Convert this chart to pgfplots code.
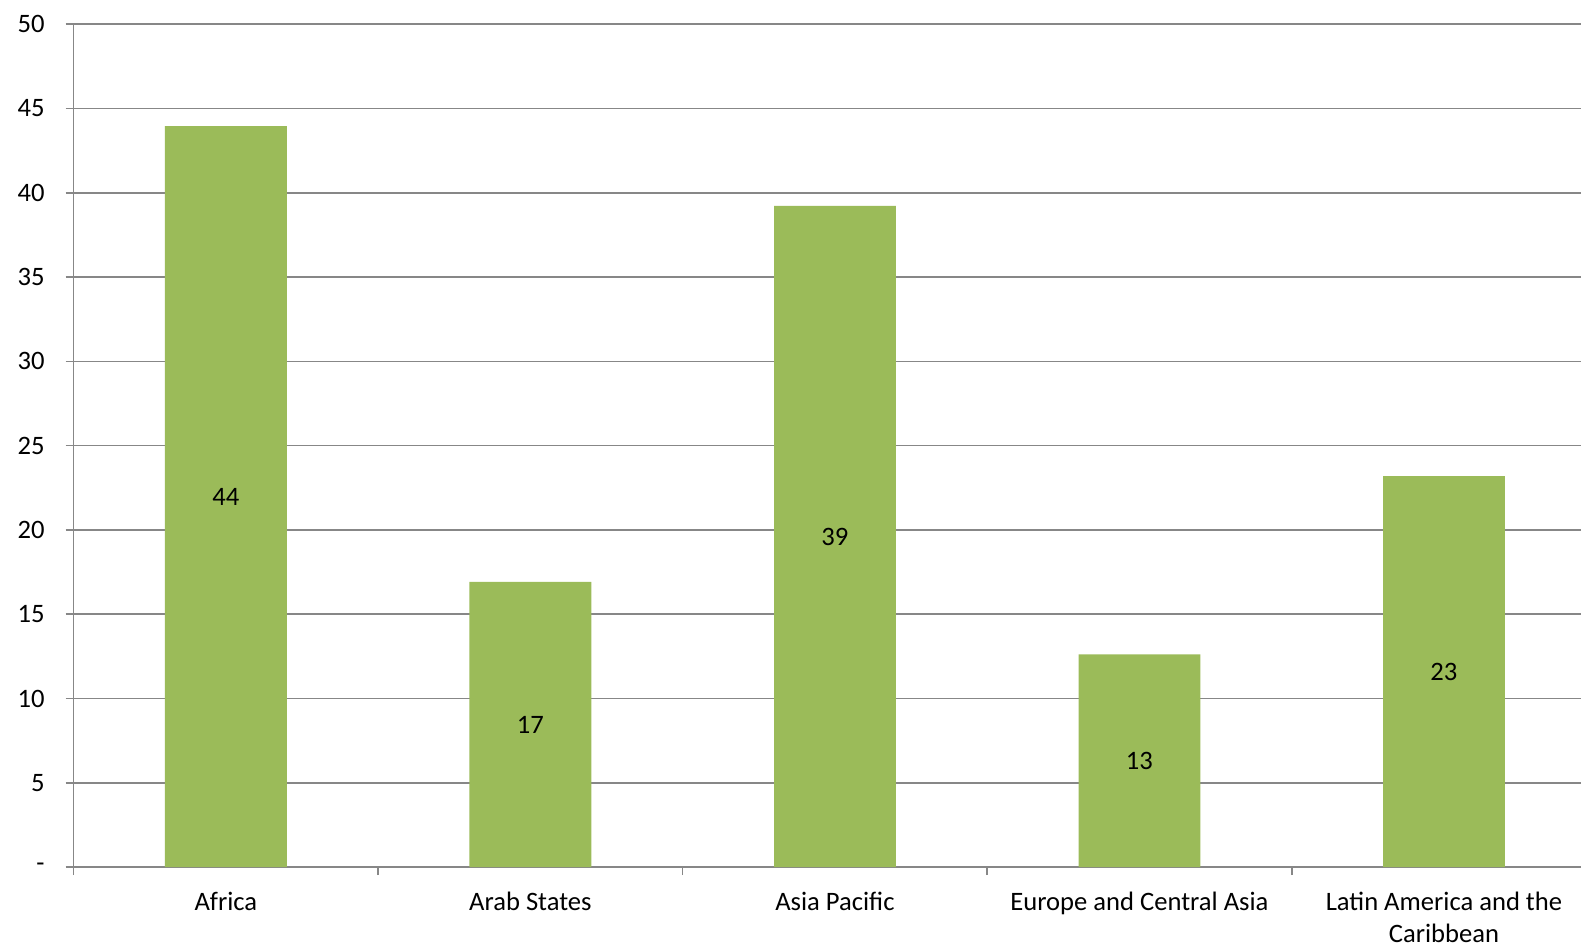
\documentclass[border=0pt]{standalone}
\usepackage{fontspec}
\setmainfont{Carlito}
\usepackage{pgfplots}
\usepackage{pgfplotstable}
\pgfplotsset{compat=1.18}
\definecolor{bargreen}{HTML}{9BBB59}
\definecolor{gridgray}{HTML}{878787}
\pgfplotstableread{
x value label
0 43.96 44
1 16.93 17
2 39.23 39
3 12.62 13
4 23.20 23
}\datatable
\begin{document}
\begin{tikzpicture}
\begin{axis}[
  scale only axis, width=753.7pt, height=421.5pt,
  xmin=-0.5, xmax=4.45, ymin=0, ymax=50,
  axis x line*=bottom, axis y line*=left,
  axis line style={gridgray, line width=0.8pt},
  ytick={0,5,...,50},
  yticklabels={-,5,10,15,20,25,30,35,40,45,50},
  ymajorgrids, grid style={gridgray, line width=0.8pt},
  tick align=outside, major tick length=4pt,
  tick style={gridgray, line width=0.8pt},
  xtick={-0.5,0.5,1.5,2.5,3.5}, xticklabels={},
  extra x ticks={0,1,2,3,4},
  extra x tick labels={Africa, Arab States, Asia Pacific, Europe and Central Asia, {Latin America and the\\Caribbean}},
  extra x tick style={major tick length=0pt, tick label style={align=center, anchor=north, yshift=-9pt}},
  yticklabel style={xshift=-7pt},
  tick label style={font=\fontsize{13.3}{15.8}\selectfont},
  /pgf/number format/assume math mode=true,
  clip=false,
]
\addplot[ybar, bar width=0.4, fill=bargreen, draw=none, bar shift=0pt] table[x=x, y=value] {\datatable};
\addplot[draw=none, mark=none, nodes near coords, point meta=explicit symbolic,
  every node near coord/.append style={anchor=center, font=\fontsize{13.3}{15.8}\selectfont, text=black}]
  table[x=x, y expr=\thisrow{value}/2, meta=label] {\datatable};
\end{axis}
\pgfresetboundingbox
\useasboundingbox (-36.8pt,-39.5pt) rectangle (753.7pt,433.6pt);
\end{tikzpicture}
\end{document}
